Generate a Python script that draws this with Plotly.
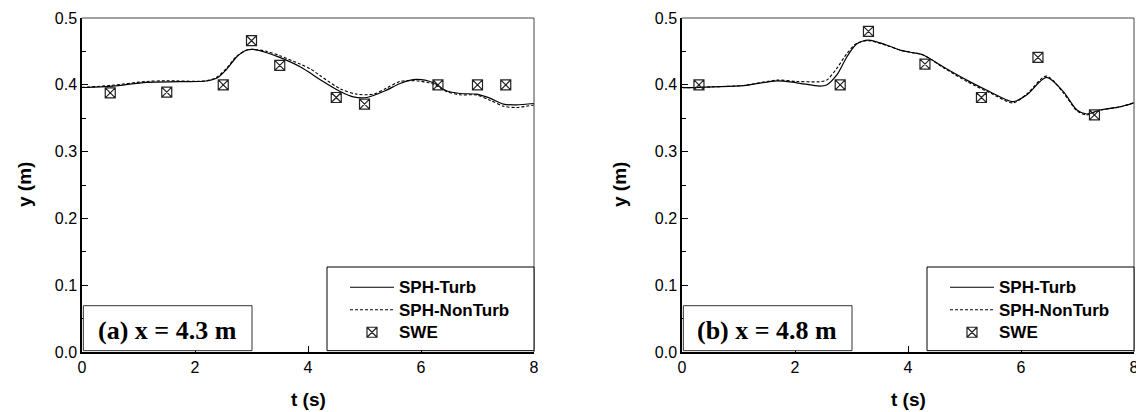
import plotly.graph_objects as go

# ---------------- data ----------------
# (a) x = 4.3 m
ta_turb = [0.0, 0.1, 0.55, 1.14, 1.73, 2.2, 2.38, 2.56, 2.74, 2.92, 3.03, 3.27, 3.5, 3.86, 4.04, 4.21,
           4.57, 4.8, 5.04, 5.39, 5.63, 5.92, 6.22, 6.45, 6.69, 6.98, 7.22, 7.46, 7.69, 8.0]
ya_turb = [0.396, 0.396, 0.398, 0.4037, 0.4047, 0.4057, 0.4097, 0.4232, 0.442, 0.452, 0.4531, 0.448, 0.441,
           0.427, 0.4175, 0.408, 0.390, 0.382, 0.381, 0.392, 0.402, 0.408, 0.403, 0.391, 0.387, 0.386,
           0.380, 0.371, 0.370, 0.372]
ta_non = [0.0, 0.5, 1.14, 1.5, 2.2, 2.38, 2.56, 2.74, 2.92, 3.05, 3.27, 3.5, 3.86, 4.04, 4.21, 4.57, 4.86,
          5.16, 5.39, 5.63, 5.92, 6.22, 6.45, 6.69, 6.98, 7.22, 7.46, 7.69, 8.0]
ya_non = [0.396, 0.399, 0.405, 0.406, 0.406, 0.411, 0.425, 0.443, 0.452, 0.453, 0.450, 0.4436, 0.431, 0.424,
          0.414, 0.394, 0.386, 0.386, 0.395, 0.405, 0.406, 0.401, 0.390, 0.385, 0.3847, 0.377, 0.368,
          0.366, 0.3698]
ta_swe = [0.5, 1.5, 2.5, 3.0, 3.5, 4.5, 5.0, 6.3, 7.0, 7.5]
ya_swe = [0.388, 0.389, 0.400, 0.466, 0.429, 0.381, 0.371, 0.400, 0.400, 0.400]

# (b) x = 4.8 m
tb_turb = [0.0, 0.08, 0.55, 1.09, 1.68, 2.03, 2.44, 2.56, 2.74, 2.92, 3.09, 3.3, 3.62, 3.86, 4.04, 4.27,
           4.62, 5.04, 5.45, 5.86, 6.1, 6.45, 6.75, 6.99, 7.16, 7.4, 7.75, 8.0]
yb_turb = [0.396, 0.3957, 0.397, 0.3987, 0.406, 0.403, 0.398, 0.3997, 0.4147, 0.442, 0.461, 0.467, 0.4596,
           0.452, 0.4487, 0.4446, 0.427, 0.407, 0.3897, 0.3747, 0.3847, 0.411, 0.3897, 0.3623, 0.3563,
           0.3623, 0.367, 0.373]
tb_non = [0.0, 0.08, 0.55, 1.09, 1.68, 2.03, 2.44, 2.56, 2.74, 2.92, 3.09, 3.3, 3.62, 3.86, 4.04, 4.27,
          4.62, 5.04, 5.45, 5.86, 6.1, 6.45, 6.75, 6.99, 7.16, 7.4, 7.75, 8.0]
yb_non = [0.396, 0.3957, 0.397, 0.399, 0.407, 0.405, 0.4047, 0.407, 0.4247, 0.447, 0.462, 0.466, 0.459,
          0.452, 0.4487, 0.4446, 0.426, 0.405, 0.388, 0.373, 0.386, 0.413, 0.388, 0.361, 0.355,
          0.362, 0.367, 0.373]
tb_swe = [0.3, 2.8, 3.3, 4.3, 5.3, 6.3, 7.3]
yb_swe = [0.400, 0.400, 0.480, 0.431, 0.381, 0.441, 0.355]

series_names = ["SPH-Turb", "SPH-NonTurb", "SWE"]
panel_labels = ["(a) x = 4.3 m", "(b) x = 4.8 m"]
x_title = "t (s)"
y_title = "y (m)"

# ---------------- figure ----------------
W, H = 1136, 412
SANS = "Liberation Sans"
SERIF = "Liberation Serif"


def leg_name(s):
    return f'<span style="font-size:17px">{s}</span>'


fig = go.Figure()

panels = [
    (ta_turb, ya_turb, ta_non, ya_non, ta_swe, ya_swe, "x", "y", "legend"),
    (tb_turb, yb_turb, tb_non, yb_non, tb_swe, yb_swe, "x2", "y2", "legend2"),
]
for (t1, y1, t2, y2, t3, y3, xa, ya, lg) in panels:
    fig.add_trace(go.Scatter(x=t1, y=y1, mode="lines", name=leg_name(series_names[0]), xaxis=xa, yaxis=ya,
                             legend=lg,
                             line=dict(color="black", width=1.2, shape="spline", smoothing=0.8)))
    fig.add_trace(go.Scatter(x=t2, y=y2, mode="lines", name=leg_name(series_names[1]), xaxis=xa, yaxis=ya,
                             legend=lg,
                             line=dict(color="black", width=1.1, dash="3px,2px", shape="spline", smoothing=0.8)))
    fig.add_trace(go.Scatter(x=t3, y=y3, mode="markers", name=leg_name(series_names[2]), xaxis=xa, yaxis=ya,
                             legend=lg,
                             marker=dict(symbol="square-x-open", size=10, color="#222",
                                         line=dict(width=1.2, color="#222"))))

# plot-area pixel geometry
left_dom = [82 / W, 534 / W]
right_dom = [682 / W, 1134 / W]
ydom = [(H - 352) / H, (H - 18) / H]

axis_common_x = dict(range=[0, 8], dtick=2, tick0=0, ticks="inside", ticklen=6, tickwidth=1,
                     tickcolor="black", showline=True, linecolor="black", linewidth=2,
                     showgrid=False, zeroline=False, automargin=False, ticklabeloverflow="allow",
                     tickfont=dict(family=SANS, size=16, color="black"))
axis_common_y = dict(range=[0, 0.5], dtick=0.1, tick0=0, tickformat=".1f", ticks="inside", ticklen=6,
                     tickwidth=1, tickcolor="black", showline=True, linecolor="black", linewidth=1.5,
                     showgrid=False, zeroline=False, automargin=False,
                     minor=dict(dtick=0.05, ticks="inside", ticklen=4, tickcolor="black", showgrid=False),
                     tickfont=dict(family=SANS, size=16, color="black"))

legend_common = dict(xanchor="left", yanchor="top", bgcolor="rgba(0,0,0,0)", borderwidth=0,
                     itemwidth=44, tracegroupgap=0,
                     font=dict(family=SANS, size=15, color="black", weight="bold"))

fig.update_layout(
    width=W, height=H,
    margin=dict(l=0, r=0, t=0, b=0, pad=0, autoexpand=False),
    paper_bgcolor="white", plot_bgcolor="white",
    xaxis=dict(domain=left_dom, anchor="y", **axis_common_x),
    yaxis=dict(domain=ydom, anchor="x", **axis_common_y),
    xaxis2=dict(domain=right_dom, anchor="y2", **axis_common_x),
    yaxis2=dict(domain=ydom, anchor="x2", **axis_common_y),
    legend=dict(x=345 / W, y=(H - 271) / H, **legend_common),
    legend2=dict(x=(345 + 600) / W, y=(H - 271) / H, **legend_common),
)

shapes = []
annotations = []
for i, (xa, ya, xtitle_x, ytitle_x) in enumerate([("x", "y", 308, 24), ("x2", "y2", 908, 619)]):
    xd, yd = f"{xa} domain", f"{ya} domain"
    # frame (top and right)
    shapes.append(dict(type="line", xref=xd, yref=yd, x0=0, x1=1, y0=1, y1=1,
                       line=dict(color="#444", width=1), layer="above"))
    shapes.append(dict(type="line", xref=xd, yref=yd, x0=1, x1=1, y0=0, y1=1,
                       line=dict(color="#444", width=1), layer="above"))
    # panel label box
    shapes.append(dict(type="rect", xref=xd, yref=yd, x0=0.003, x1=170 / 452, y0=0.004, y1=46.3 / 334,
                       fillcolor="white", line=dict(color="#333", width=1), layer="above"))
    # legend box
    shapes.append(dict(type="rect", xref=xd, yref=yd, x0=245 / 452, x1=1, y0=0.004, y1=85 / 334,
                       fillcolor="white", line=dict(color="black", width=1), layer="above"))
    annotations.append(dict(text=panel_labels[i], xref=xd, yref=yd, x=85 / 452, y=22 / 334,
                            xanchor="center", yanchor="middle", showarrow=False,
                            font=dict(family=SERIF, size=26, color="black", weight="bold")))
    annotations.append(dict(text=x_title, xref="paper", yref="paper", x=xtitle_x / W, y=(H - 399) / H,
                            xanchor="center", yanchor="middle", showarrow=False,
                            font=dict(family=SANS, size=19, color="black", weight="bold")))
    annotations.append(dict(text=y_title, xref="paper", yref="paper", x=ytitle_x / W, y=(H - 185) / H,
                            xanchor="center", yanchor="middle", showarrow=False, textangle=-90,
                            font=dict(family=SANS, size=19, color="black", weight="bold")))

fig.update_layout(shapes=shapes, annotations=annotations)

fig.write_html("out.html",
               config={"displayModeBar": False},
               post_script="document.body.style.margin='0px';document.body.style.padding='0px';"
                           "document.documentElement.style.overflow='hidden';")
